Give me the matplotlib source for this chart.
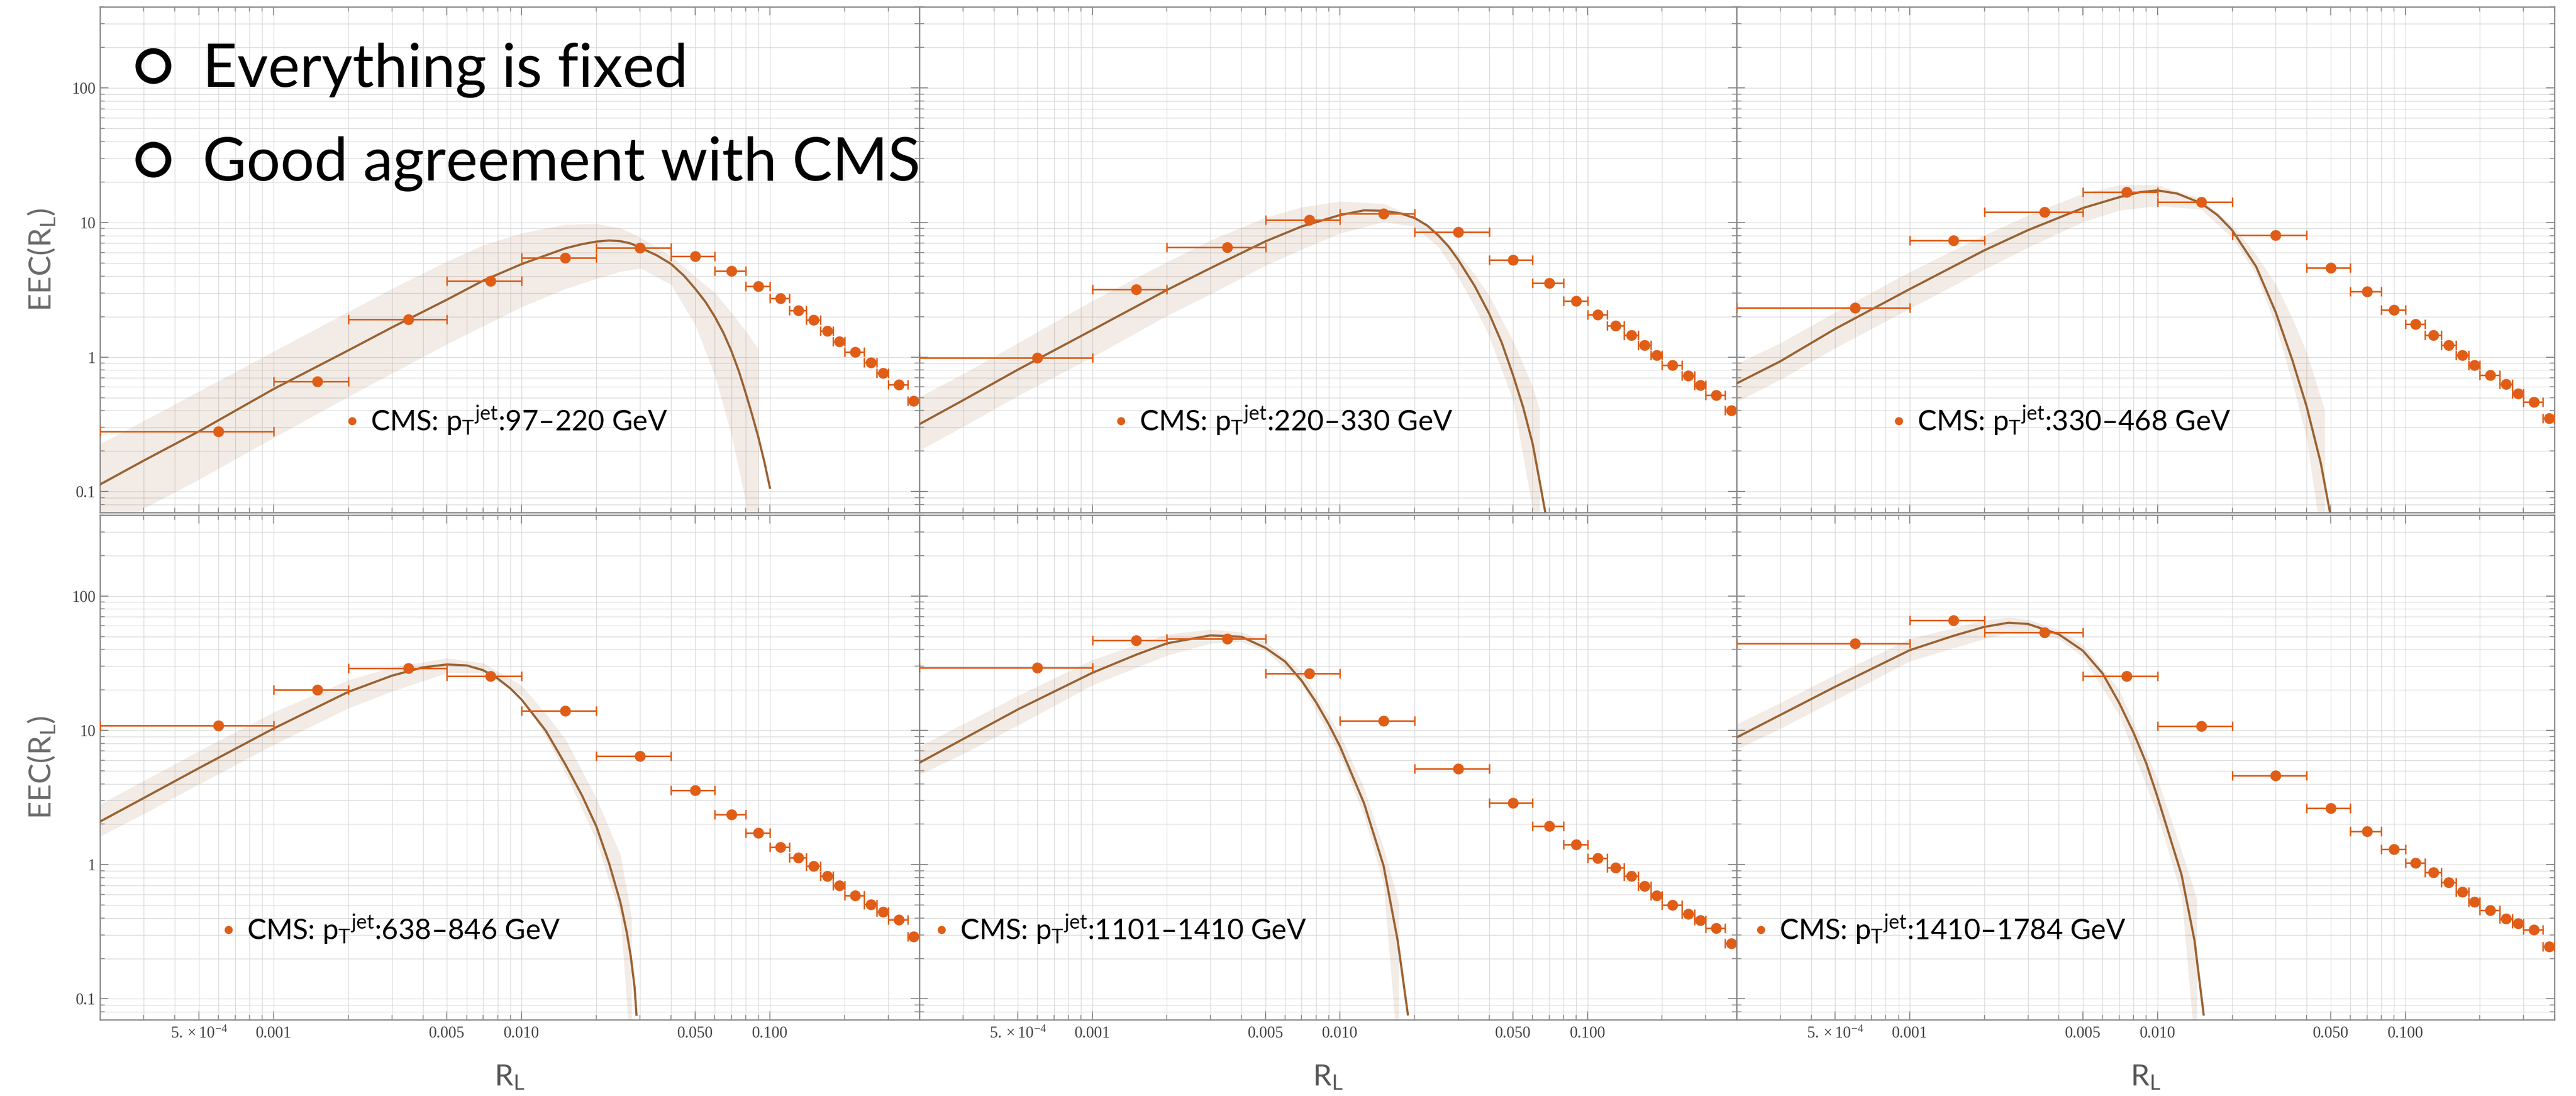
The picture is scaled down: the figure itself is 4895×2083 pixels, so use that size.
import numpy as np
import matplotlib
matplotlib.use('Agg')
import matplotlib.pyplot as plt
from matplotlib.lines import Line2D
from matplotlib.ticker import FixedLocator, FixedFormatter, NullFormatter
from matplotlib import font_manager

def pick(names, default):
    avail = {f.name for f in font_manager.fontManager.ttflist}
    for n in names:
        if n in avail:
            return n
    return default

SANS = pick(['Lato', 'Open Sans', 'Noto Sans'], 'DejaVu Sans')
SERIF = pick(['Liberation Serif', 'DejaVu Serif'], 'DejaVu Serif')
plt.rcParams['font.family'] = [SANS, 'DejaVu Sans']
plt.rcParams['mathtext.default'] = 'regular'
plt.rcParams['mathtext.fontset'] = 'stix'

ORANGE = '#E05D17'
BROWN = '#9A6232'

# ---------------- data ----------------
bin_lo = [2e-4, 1e-3, 2e-3, 5e-3, 0.01, 0.02, 0.04, 0.06, 0.08, 0.10,
          0.12, 0.14, 0.16, 0.18, 0.20, 0.24, 0.27, 0.30, 0.36]
bin_hi = [1e-3, 2e-3, 5e-3, 0.01, 0.02, 0.04, 0.06, 0.08, 0.10, 0.12,
          0.14, 0.16, 0.18, 0.20, 0.24, 0.27, 0.30, 0.36, 0.40]
bin_center = [6e-4, 1.5e-3, 3.5e-3, 7.5e-3, 0.015, 0.03, 0.05, 0.07, 0.09, 0.11,
              0.13, 0.15, 0.17, 0.19, 0.22, 0.255, 0.285, 0.33, 0.38]

labels = ['97–220', '220–330', '330–468', '638–846', '1101–1410', '1410–1784']

cms1 = [0.281, 0.656, 1.91, 3.68, 5.47, 6.50, 5.60, 4.38, 3.36, 2.73, 2.21, 1.88, 1.56, 1.30, 1.09, 0.914, 0.761, 0.626, 0.470]
cms2 = [0.99, 3.18, 6.56, 10.45, 11.66, 8.50, 5.27, 3.56, 2.61, 2.06, 1.71, 1.45, 1.22, 1.03, 0.867, 0.729, 0.617, 0.519, 0.401]
cms3 = [2.32, 7.37, 11.9, 16.9, 14.2, 8.07, 4.59, 3.07, 2.25, 1.75, 1.45, 1.22, 1.03, 0.867, 0.733, 0.631, 0.537, 0.465, 0.351]
cms4 = [10.8, 20.0, 29.0, 25.3, 13.9, 6.45, 3.56, 2.35, 1.72, 1.35, 1.13, 0.975, 0.822, 0.699, 0.586, 0.505, 0.446, 0.389, 0.292]
cms5 = [29.2, 46.8, 48.0, 26.5, 11.8, 5.17, 2.87, 1.93, 1.41, 1.12, 0.949, 0.822, 0.694, 0.586, 0.498, 0.431, 0.384, 0.335, 0.259]
cms6 = [44.1, 65.6, 53.6, 25.2, 10.7, 4.62, 2.64, 1.77, 1.30, 1.03, 0.878, 0.736, 0.625, 0.528, 0.457, 0.396, 0.364, 0.326, 0.245]

# theory curves
th1_x = [2e-4, 3e-4, 5e-4, 1e-3, 2e-3, 3e-3, 5e-3, 7e-3, 0.01, 0.015, 0.0175, 0.02, 0.0225, 0.025,
         0.0275, 0.03, 0.035, 0.04, 0.045, 0.05, 0.055, 0.06, 0.065, 0.07, 0.075, 0.08, 0.085,
         0.09, 0.095, 0.1]
th1_y = [0.113, 0.170, 0.280, 0.578, 1.12, 1.66, 2.67, 3.70, 4.91, 6.43, 6.90, 7.21, 7.35, 7.26,
         6.98, 6.50, 5.70, 4.91, 4.03, 3.22, 2.57, 1.99, 1.51, 1.105, 0.783, 0.535, 0.366,
         0.250, 0.166, 0.107]
th2_x = [2e-4, 3e-4, 5e-4, 1e-3, 2e-3, 3e-3, 5e-3, 7e-3, 0.01, 0.0125, 0.015, 0.0175, 0.02, 0.0225,
         0.025, 0.0275, 0.03, 0.035, 0.04, 0.045, 0.05, 0.055, 0.06, 0.064, 0.0675]
th2_y = [0.317, 0.477, 0.806, 1.59, 3.15, 4.58, 7.24, 9.34, 11.35, 12.3, 12.2, 11.7, 10.8, 9.5,
         7.98, 6.6, 5.29, 3.37, 2.11, 1.28, 0.734, 0.42, 0.227, 0.12, 0.07]
th3_x = [2e-4, 3e-4, 5e-4, 1e-3, 2e-3, 3e-3, 5e-3, 7e-3, 0.0085, 0.01, 0.012, 0.015, 0.0175, 0.02,
         0.025, 0.03, 0.035, 0.04, 0.0456, 0.0496]
th3_y = [0.637, 0.929, 1.62, 3.20, 6.21, 8.77, 12.8, 15.4, 16.8, 17.3, 16.4, 13.9, 11.3, 8.77,
         4.7, 2.15, 0.949, 0.428, 0.163, 0.071]
th4_x = [2e-4, 3e-4, 5e-4, 1e-3, 2e-3, 3e-3, 4e-3, 5e-3, 6e-3, 7e-3, 8e-3, 9e-3, 0.01, 0.0125,
         0.015, 0.0175, 0.02, 0.0225, 0.025, 0.0265, 0.0275, 0.0285, 0.029]
th4_y = [2.09, 3.13, 5.22, 10.3, 19.3, 25.5, 29.4, 30.9, 30.4, 28.0, 24.3, 20.5, 16.9, 9.93,
         5.56, 3.27, 1.92, 1.02, 0.521, 0.313, 0.208, 0.122, 0.0762]
th5_x = [2e-4, 3e-4, 5e-4, 1e-3, 1.5e-3, 2e-3, 3e-3, 4e-3, 5e-3, 6e-3, 7e-3, 8e-3, 9e-3, 0.01,
         0.0125, 0.015, 0.0171, 0.0188]
th5_y = [5.73, 8.59, 14.3, 26.8, 36.5, 44.4, 50.9, 49.7, 41.1, 32.5, 23.4, 16.2, 11.1, 7.59,
         2.87, 0.980, 0.272, 0.0766]
th6_x = [2e-4, 3e-4, 5e-4, 1e-3, 1.5e-3, 2e-3, 2.5e-3, 3e-3, 4e-3, 5e-3, 6e-3, 7e-3, 8e-3, 9e-3,
         0.01, 0.0125, 0.0141, 0.01535]
th6_y = [8.85, 13.0, 21.1, 39.5, 50.5, 58.9, 63.2, 61.9, 51.8, 39.1, 26.5, 16.0, 9.6, 5.7,
         3.18, 0.840, 0.272, 0.0766]

# uncertainty bands
bd1_x = [2e-4, 3e-4, 5e-4, 1e-3, 2e-3, 3e-3, 5e-3, 7e-3, 0.01, 0.015, 0.02, 0.025, 0.03, 0.04, 0.05, 0.06, 0.07, 0.08, 0.09]
bd1_hi = [0.226, 0.336, 0.555, 1.10, 2.17, 3.22, 5.14, 6.78, 8.34, 9.66, 9.79, 9.08, 7.78, 5.60, 3.96, 3.01, 2.13, 1.56, 1.14]
bd1_lo = [0.049, 0.075, 0.123, 0.251, 0.508, 0.757, 1.25, 1.70, 2.36, 3.22, 3.83, 4.32, 4.58, 3.45, 1.73, 0.731, 0.264, 0.083, 0.02]
bd2_x = [2e-4, 3e-4, 5e-4, 1e-3, 2e-3, 3e-3, 5e-3, 7e-3, 0.01, 0.015, 0.02, 0.025, 0.03, 0.035, 0.04, 0.05, 0.06, 0.064]
bd2_hi = [0.506, 0.748, 1.27, 2.62, 5.09, 7.38, 10.9, 13.0, 14.35, 13.8, 11.1, 8.30, 5.83, 4.10, 2.88, 1.32, 0.604, 0.408]
bd2_lo = [0.202, 0.304, 0.516, 1.00, 2.03, 2.94, 4.80, 6.31, 8.30, 10.1, 9.33, 6.56, 3.94, 2.37, 1.43, 0.477, 0.074, 0.03]
bd3_x = [2e-4, 3e-4, 5e-4, 1e-3, 2e-3, 3e-3, 5e-3, 7e-3, 0.01, 0.015, 0.02, 0.025, 0.03, 0.035, 0.04, 0.0473]
bd3_hi = [0.891, 1.27, 2.15, 4.30, 8.05, 11.3, 16.4, 19.0, 19.0, 15.1, 9.53, 5.75, 3.48, 1.94, 1.08, 0.402]
bd3_lo = [0.466, 0.679, 1.17, 2.29, 4.48, 6.53, 10.1, 12.3, 13.3, 12.5, 7.73, 4.12, 1.71, 0.650, 0.248, 0.03]
bd4_x = [2e-4, 3e-4, 5e-4, 1e-3, 2e-3, 3e-3, 5e-3, 7e-3, 0.01, 0.0125, 0.015, 0.02, 0.025, 0.0277]
bd4_hi = [2.82, 4.20, 7.01, 13.6, 23.7, 29.4, 34.5, 31.6, 21.5, 13.3, 8.59, 3.11, 1.18, 0.409]
bd4_lo = [1.62, 2.39, 3.96, 7.80, 14.6, 19.5, 26.7, 26.7, 18.2, 9.02, 4.81, 1.51, 0.409, 0.03]
bd5_x = [2e-4, 3e-4, 5e-4, 1e-3, 2e-3, 3e-3, 4e-3, 5e-3, 7e-3, 0.01, 0.0125, 0.015, 0.0173]
bd5_hi = [7.59, 11.1, 18.1, 33.5, 51.8, 56.5, 53.7, 45.6, 27.3, 9.31, 3.71, 1.33, 0.516]
bd5_lo = [4.67, 6.68, 10.9, 21.7, 36.1, 44.4, 45.6, 39.1, 22.2, 6.52, 2.34, 0.721, 0.03]
bd6_x = [2e-4, 3e-4, 5e-4, 1e-3, 2e-3, 2.5e-3, 3e-3, 4e-3, 5e-3, 7e-3, 0.01, 0.0125, 0.0144]
bd6_hi = [11.1, 16.0, 25.9, 48.0, 65.9, 69.3, 66.8, 55.8, 43.3, 20.1, 4.33, 1.27, 0.558]
bd6_lo = [7.21, 10.3, 16.8, 32.7, 48.0, 53.1, 54.5, 48.0, 35.2, 13.0, 2.34, 0.587, 0.03]

x_major = [5e-4, 1e-3, 5e-3, 1e-2, 5e-2, 1e-1]
x_major_labels = [r'$5.\times10^{-4}$', '0.001', '0.005', '0.010', '0.050', '0.100']
x_minor = [3e-4, 4e-4, 6e-4, 7e-4, 8e-4, 9e-4, 2e-3, 3e-3, 4e-3, 6e-3, 7e-3, 8e-3, 9e-3,
           0.02, 0.03, 0.04, 0.06, 0.07, 0.08, 0.09, 0.2, 0.3, 0.4]
y_major = [0.1, 1, 10, 100]
y_major_labels = ['0.1', '1', '10', '100']
y_minor = [0.08, 0.09, 0.2, 0.3, 0.4, 0.5, 0.6, 0.7, 0.8, 0.9,
           2, 3, 4, 5, 6, 7, 8, 9, 20, 30, 40, 50, 60, 70, 80, 90, 200, 300, 400]

panels = [
    (cms1, th1_x, th1_y, bd1_x, bd1_lo, bd1_hi),
    (cms2, th2_x, th2_y, bd2_x, bd2_lo, bd2_hi),
    (cms3, th3_x, th3_y, bd3_x, bd3_lo, bd3_hi),
    (cms4, th4_x, th4_y, bd4_x, bd4_lo, bd4_hi),
    (cms5, th5_x, th5_y, bd5_x, bd5_lo, bd5_hi),
    (cms6, th6_x, th6_y, bd6_x, bd6_lo, bd6_hi),
]

# ---------------- layout ----------------
W, H = 4895, 2083
fig = plt.figure(figsize=(W / 100, H / 100), dpi=100)
cols = [(190, 1747), (1747, 3300), (3300, 4854)]
rows = [(13, 974), (979, 1938)]
legend_anchor = [(0.3006, 0.181), (0.2395, 0.181), (0.1911, 0.181),
                 (0.1496, 0.179), (0.0200, 0.179), (0.0225, 0.179)]

xc = np.array(bin_center)
xerr = np.array([xc - np.array(bin_lo), np.array(bin_hi) - xc])

for i, (cms, tx, ty, bx, blo, bhi) in enumerate(panels):
    r, c = divmod(i, 3)
    x0, x1 = cols[c]
    y0, y1 = rows[r]
    ax = fig.add_axes([x0 / W, 1 - y1 / H, (x1 - x0) / W, (y1 - y0) / H])
    ax.set_xscale('log')
    ax.set_yscale('log')

    ax.fill_between(bx, blo, bhi, color=BROWN, alpha=0.12, lw=0, zorder=2)
    ax.plot(tx, ty, color=BROWN, lw=3.0, zorder=3, solid_joinstyle='round')
    ax.errorbar(xc, cms, xerr=xerr, fmt='none', ecolor=ORANGE, elinewidth=2.2,
                capsize=6.5, capthick=2.0, zorder=4)
    pts, = ax.plot(xc, cms, 'o', color=ORANGE, ms=14.8, mec='none', zorder=5)

    ax.set_xlim(2e-4, 0.4)
    ax.set_ylim(0.07, 400)

    ax.xaxis.set_major_locator(FixedLocator(x_major))
    ax.xaxis.set_minor_locator(FixedLocator(x_minor))
    ax.xaxis.set_major_formatter(FixedFormatter(x_major_labels))
    ax.xaxis.set_minor_formatter(NullFormatter())
    ax.yaxis.set_major_locator(FixedLocator(y_major))
    ax.yaxis.set_minor_locator(FixedLocator(y_minor))
    ax.yaxis.set_major_formatter(FixedFormatter(y_major_labels))
    ax.yaxis.set_minor_formatter(NullFormatter())

    ax.set_axisbelow(True)
    ax.grid(True, which='both', color='#d8d8d8', lw=0.9)
    for s in ax.spines.values():
        s.set_color('#8a8a8a')
        s.set_linewidth(1.8)
    ax.tick_params(which='both', direction='in', top=True, right=True,
                   color='#8a8a8a', labelcolor='#444444', labelsize=22,
                   labelfontfamily=SERIF)
    ax.tick_params(which='major', length=11.5, width=1.4)
    ax.tick_params(which='minor', length=6.5, width=1.2)
    ax.tick_params(axis='x', pad=9)
    ax.tick_params(axis='y', pad=6)
    ax.tick_params(labelbottom=(r == 1), labelleft=(c == 0))

    if c == 0:
        ax.text(-0.0719, 0.5, r'EEC(R$_L$)', transform=ax.transAxes, rotation=90,
                ha='center', va='center', fontsize=42, color='#6a6a6a')
    if r == 1:
        ax.text(0.5, -0.1147, r'R$_L$', transform=ax.transAxes,
                ha='center', va='center', fontsize=41, color='#555555')

    lab = r'CMS: $p_T{}^{jet}$:' + labels[i] + ' GeV'
    ax.legend([pts], [lab], loc='center left', bbox_to_anchor=legend_anchor[i],
              frameon=False, fontsize=39, handlelength=0.4, handletextpad=0.45,
              borderpad=0, borderaxespad=0, markerscale=0.75)

# headline text with bullets
for ybul, ybase, txt in [(125, 165, 'Everything is fixed'),
                         (303, 343, 'Good agreement with CMS')]:
    fig.add_artist(Line2D([291 / W], [1 - ybul / H], transform=fig.transFigure,
                          marker='o', ms=41, mew=8, mfc='none', mec='black', ls='none'))
    fig.text(385 / W, 1 - ybase / H, txt, fontsize=82, color='black',
             ha='left', va='baseline', zorder=20)

fig.savefig('out.png', dpi=100)
